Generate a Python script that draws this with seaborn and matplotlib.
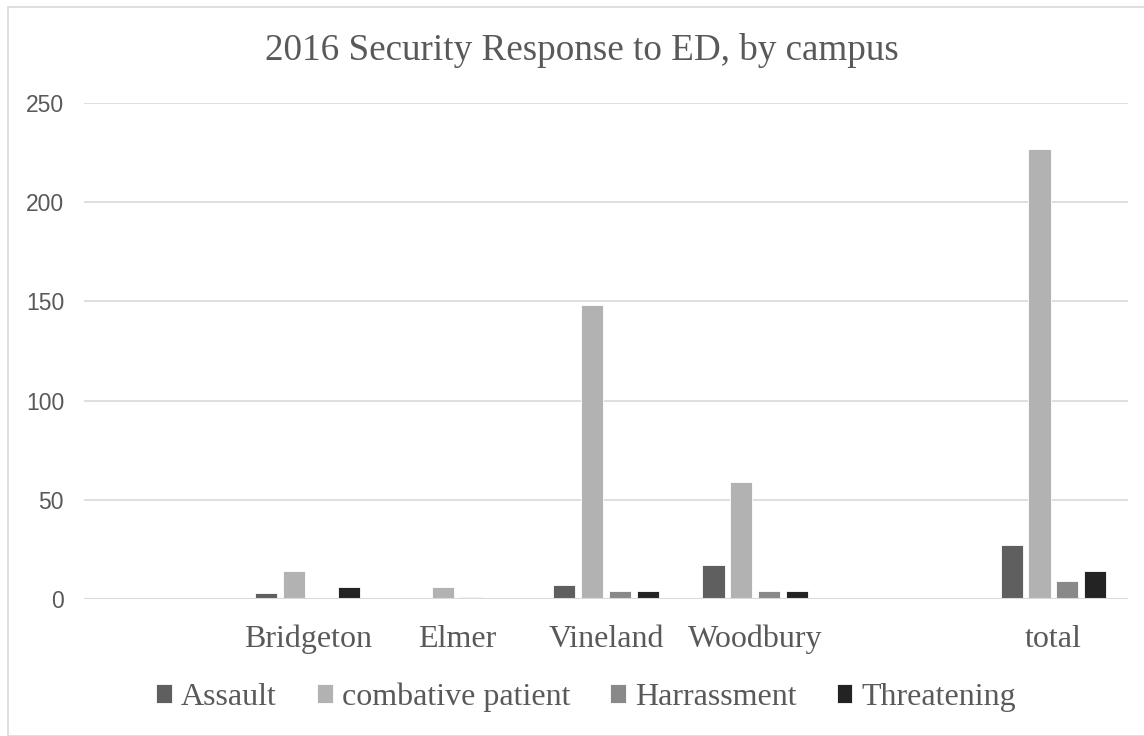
import matplotlib
matplotlib.use("Agg")
import matplotlib.pyplot as plt
import seaborn as sns
import pandas as pd
from matplotlib.patches import Rectangle

categories = ["", "Bridgeton", "Elmer", "Vineland", "Woodbury", " ", "total"]
campuses = ["Bridgeton", "Elmer", "Vineland", "Woodbury", "total"]
assault = [3, 0, 7, 17, 27]
combative = [14, 6, 148, 59, 227]
harrassment = [0, 1, 4, 4, 9]
threatening = [6, 0, 4, 4, 14]
series_names = ["Assault", "combative patient", "Harrassment", "Threatening"]
colors = ["#5f5f5f", "#b2b2b2", "#898989", "#232323"]
yticks = [0, 50, 100, 150, 200, 250]

rows = []
for name, vals in zip(series_names, [assault, combative, harrassment, threatening]):
    for c, v in zip(campuses, vals):
        rows.append({"campus": c, "type": name, "count": v})
df = pd.DataFrame(rows)

sns.set_theme(style="white")
plt.rcParams["font.family"] = ["Liberation Serif", "DejaVu Serif"]

fig = plt.figure(figsize=(11.44, 7.36), dpi=100)
W, H = 1144, 736
left, right, top, bottom = 84, 1128, 103, 599
ax = fig.add_axes([left / W, 1 - bottom / H, (right - left) / W, (bottom - top) / H])

sns.barplot(data=df, x="campus", y="count", hue="type", order=categories,
            hue_order=series_names, palette=colors, width=0.745, gap=0.2,
            edgecolor="white", linewidth=0.6, ax=ax, legend=True)

ax.set_ylim(0, 250)
ax.set_yticks(yticks)
ax.yaxis.grid(True, color="#d9d9d9", linewidth=1.2)
ax.set_axisbelow(True)
for s in ax.spines.values():
    s.set_visible(False)
ax.axhline(0, color="#d9d9d9", linewidth=1.5, zorder=4)
ax.set_xlabel("")
ax.set_ylabel("")
ax.tick_params(axis="both", length=0)
ax.tick_params(axis="y", pad=14.4)
ax.tick_params(axis="x", pad=18.5)
for t in ax.get_yticklabels():
    t.set_fontfamily(["Liberation Sans", "DejaVu Sans"])
    t.set_fontsize(16.5)
    t.set_color("#595959")
for t in ax.get_xticklabels():
    t.set_fontsize(23)
    t.set_color("#595959")

fig.text(582 / W, 1 - 50 / H, "2016 Security Response to ED, by campus",
         ha="center", va="center", fontsize=26.7, color="#595959")

handles, labels = ax.get_legend_handles_labels()
ax.get_legend().remove()
fig.legend(handles, labels, loc="center", bbox_to_anchor=(586 / W, 1 - 697 / H),
           ncol=4, frameon=False, fontsize=23, labelcolor="#595959",
           handlelength=0.5, handleheight=0.5, handletextpad=0.28,
           columnspacing=1.25, borderpad=0, borderaxespad=0)

fig.patches.append(Rectangle((8 / W, 0), 2, 1 - 7 / H, transform=fig.transFigure,
                             fill=False, edgecolor="#d9d9d9", linewidth=1.2))

fig.savefig("out.png", dpi=100, facecolor="white")
